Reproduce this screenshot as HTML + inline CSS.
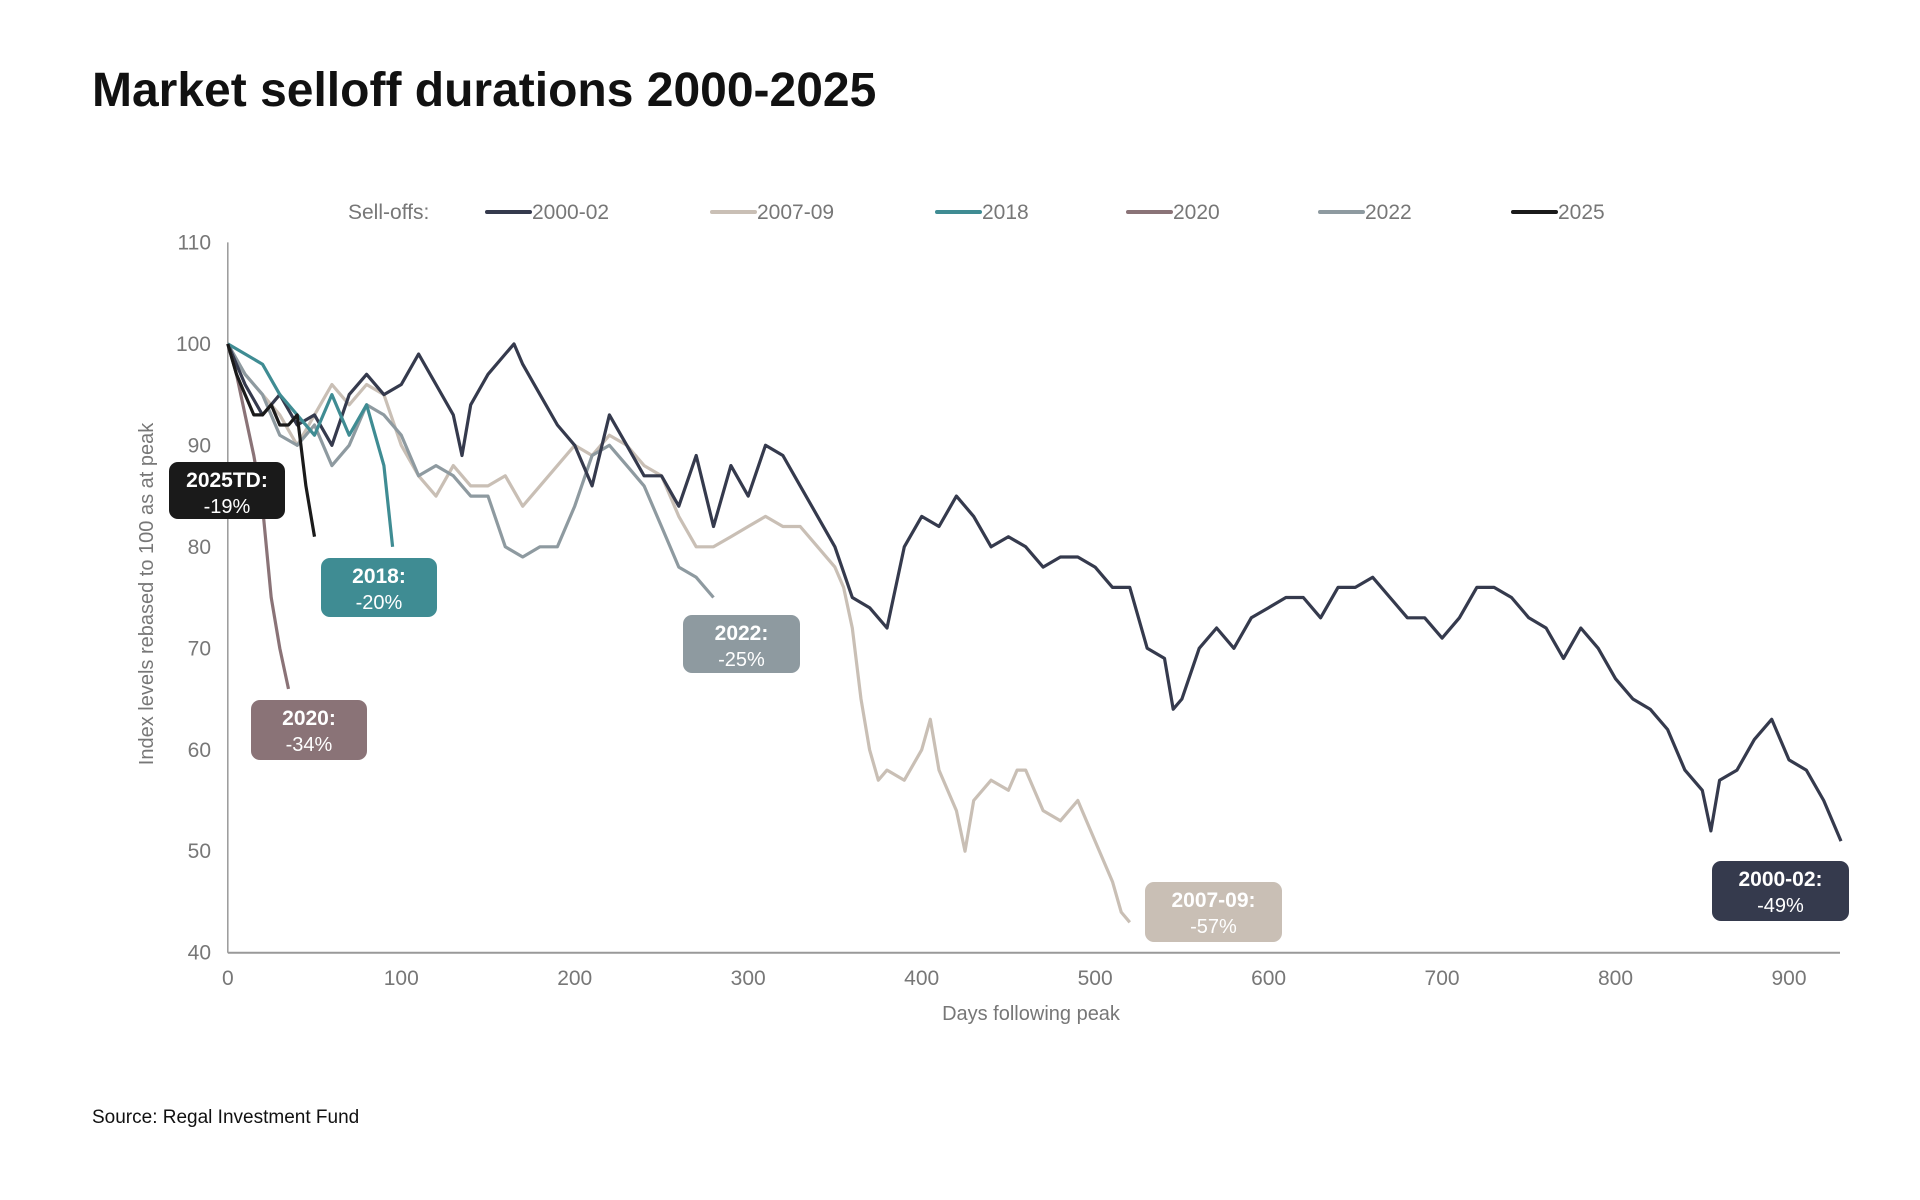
<!DOCTYPE html>
<html><head><meta charset="utf-8"><style>
html,body{margin:0;padding:0;background:#fff;}
svg{display:block;font-family:"Liberation Sans",sans-serif;}
</style></head><body>
<svg id="chart" width="1920" height="1200" viewBox="0 0 1920 1200">
<text x="92" y="106" font-size="48" font-weight="bold" fill="#111">Market selloff durations 2000-2025</text>
<g id="legend" font-size="21" fill="#777"></g>
<g id="axes"></g>
<g id="series"></g>
<g id="callouts"></g>
<text transform="translate(153,594) rotate(-90)" text-anchor="middle" font-size="20" fill="#777">Index levels rebased to 100 as at peak</text>
<text x="1031" y="1020" text-anchor="middle" font-size="20" fill="#777">Days following peak</text>
<text x="92" y="1123" font-size="19" fill="#111">Source: Regal Investment Fund</text>
</svg>
<script>
const xTicks=[0,100,200,300,400,500,600,700,800,900];
const yTicks=[40,50,60,70,80,90,100,110];
const seriesNames=["2000-02","2007-09","2018","2020","2022","2025"];
const seriesColors=["#353a4d","#c9bfb5","#3f8c93","#8a7377","#8e9aa0","#1a1a1a"];
const days0002=[0,10,20,30,40,50,60,70,80,90,100,110,120,130,135,140,150,160,165,170,180,190,200,210,220,230,240,250,260,270,280,290,300,310,320,330,340,350,360,370,380,390,400,410,420,430,440,450,460,470,480,490,500,510,520,530,540,545,550,560,570,580,590,600,610,620,630,640,650,660,670,680,690,700,710,720,730,740,750,760,770,780,790,800,810,820,830,840,850,855,860,870,880,890,900,910,920,930];
const vals0002=[100,96,93,95,92,93,90,95,97,95,96,99,96,93,89,94,97,99,100,98,95,92,90,86,93,90,87,87,84,89,82,88,85,90,89,86,83,80,75,74,72,80,83,82,85,83,80,81,80,78,79,79,78,76,76,70,69,64,65,70,72,70,73,74,75,75,73,76,76,77,75,73,73,71,73,76,76,75,73,72,69,72,70,67,65,64,62,58,56,52,57,58,61,63,59,58,55,51];
const days0709=[0,10,20,30,40,50,60,70,80,90,100,110,120,130,140,150,160,170,180,190,200,210,220,230,240,250,260,270,280,290,300,310,320,330,340,350,355,360,365,370,375,380,390,400,405,410,420,425,430,440,450,455,460,470,480,490,500,510,515,520];
const vals0709=[100,97,95,93,90,93,96,94,96,95,90,87,85,88,86,86,87,84,86,88,90,89,91,90,88,87,83,80,80,81,82,83,82,82,80,78,76,72,65,60,57,58,57,60,63,58,54,50,55,57,56,58,58,54,53,55,51,47,44,43];
const days2018=[0,10,20,30,40,50,60,70,80,90,95];
const vals2018=[100,99,98,95,93,91,95,91,94,88,80];
const days2020=[0,5,10,15,20,25,30,35];
const vals2020=[100,97,93,89,84,75,70,66];
const days2022=[0,10,20,30,40,50,60,70,80,90,100,110,120,130,140,150,160,170,180,190,200,210,220,230,240,250,260,270,280];
const vals2022=[100,97,95,91,90,92,88,90,94,93,91,87,88,87,85,85,80,79,80,80,84,89,90,88,86,82,78,77,75];
const days2025=[0,5,10,15,20,25,30,35,40,45,50];
const vals2025=[100,97,95,93,93,94,92,92,93,86,81];
const calloutLines=[["2025TD:","-19%"],["2018:","-20%"],["2020:","-34%"],["2022:","-25%"],["2007-09:","-57%"],["2000-02:","-49%"]];
const NS="http://www.w3.org/2000/svg";
const X0=227.8,X900=1789,Y110=242.4,Y40=952.7;
function xs(d){return X0+(X900-X0)*d/900;}
function ys(v){return Y40-(Y40-Y110)*(v-40)/70;}
function mk(tag,attrs,parent){const e=document.createElementNS(NS,tag);for(const k in attrs)e.setAttribute(k,attrs[k]);parent.appendChild(e);return e;}
const axes=document.getElementById('axes');
const a1=mk('line',{x1:X0,y1:Y110,x2:X0,y2:Y40,stroke:'#999','stroke-width':1.5},axes);


const a2=mk('line',{x1:X0,y1:Y40,x2:1840,y2:Y40,stroke:'#999','stroke-width':2},axes);


yTicks.forEach(v=>{const t=mk('text',{x:211,y:ys(v)+7,'text-anchor':'end','font-size':21,fill:'#777'},axes);t.textContent=v;

});
xTicks.forEach(d=>{const t=mk('text',{x:xs(d),y:985,'text-anchor':'middle','font-size':21,fill:'#777'},axes);t.textContent=d;

});
const allDays=[days0002,days0709,days2018,days2020,days2022,days2025];
const allVals=[vals0002,vals0709,vals2018,vals2020,vals2022,vals2025];
const order=[1,4,0,2,3,5];
const sg=document.getElementById('series');
order.forEach(i=>{const pts=allDays[i].map((d,j)=>xs(d).toFixed(1)+','+ys(allVals[i][j]).toFixed(1)).join(' ');
const p=mk('polyline',{points:pts,fill:'none',stroke:seriesColors[i],'stroke-width':3.2,'stroke-linejoin':'round'},sg);

});
// legend
const lg=document.getElementById('legend');
const t0=mk('text',{x:348,y:219},lg);t0.textContent='Sell-offs:';


const legX=[487,712,937,1128,1320,1513];
seriesNames.forEach((n,i)=>{const g=mk('g',{},lg);


mk('line',{x1:legX[i],y1:212,x2:legX[i]+43,y2:212,stroke:seriesColors[i],'stroke-width':4,'stroke-linecap':'round'},g);
const t=mk('text',{x:legX[i]+45,y:219},g);t.textContent=n;});
// callouts
const boxes=[[169,462,116,57],[321,558,116,59],[251,700,116,60],[683,615,117,58],[1145,882,137,60],[1712,861,137,60]];
const boxColors=["#1a1a1a","#3f8c93","#8a7377","#8e9aa0","#c9bfb5","#353a4d"];
const cg=document.getElementById('callouts');
boxes.forEach((b,i)=>{const g=mk('g',{},cg);


mk('rect',{x:b[0],y:b[1],width:b[2],height:b[3],rx:9,fill:boxColors[i]},g);
const cx=b[0]+b[2]/2;
const t1=mk('text',{x:cx,y:b[1]+25,'text-anchor':'middle','font-size':21,'font-weight':'bold',fill:'#fff'},g);t1.textContent=calloutLines[i][0];
const t2=mk('text',{x:cx,y:b[1]+51,'text-anchor':'middle','font-size':20,fill:'#fff'},g);t2.textContent=calloutLines[i][1];});
</script>
</body></html>
